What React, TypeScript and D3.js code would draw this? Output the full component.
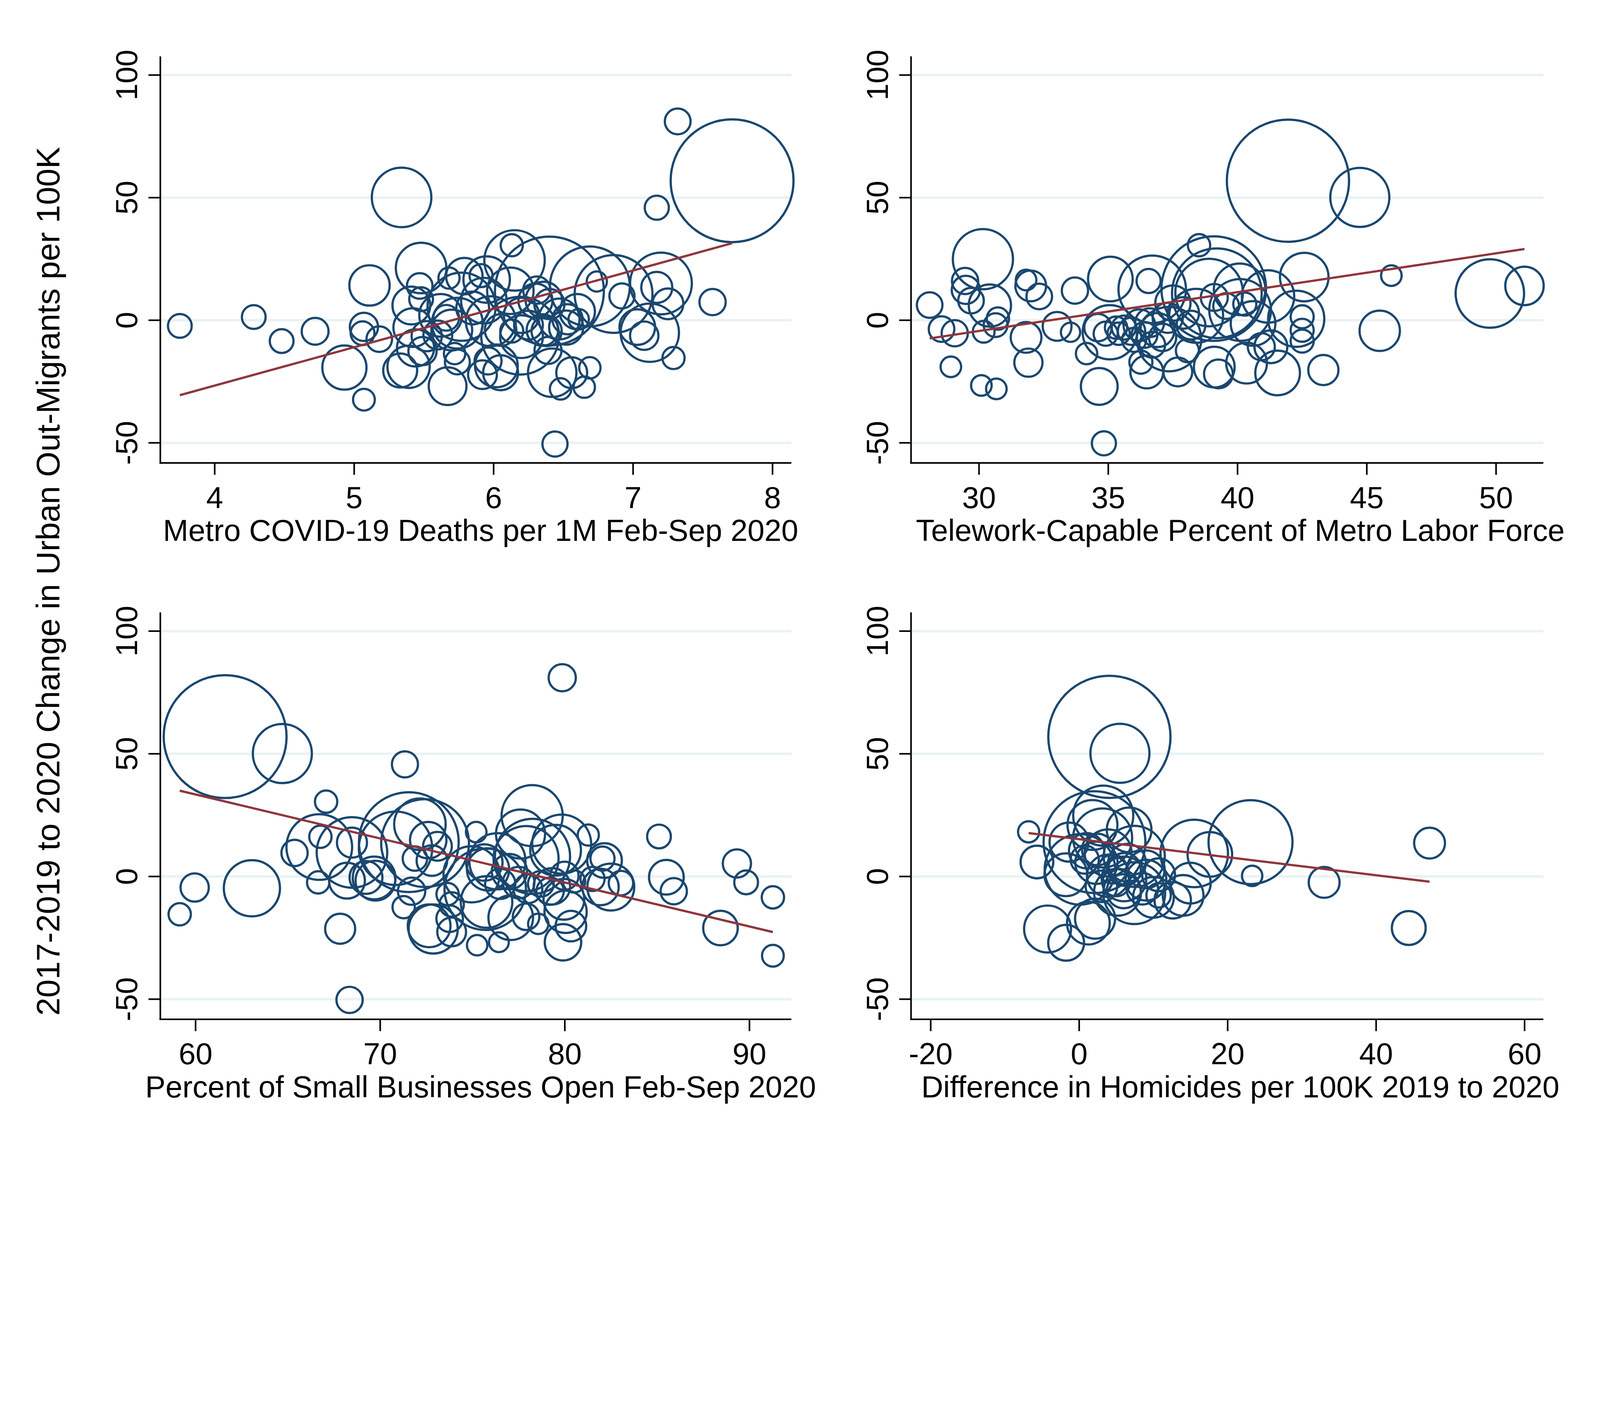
import React from 'react';
import * as d3 from 'd3';

// [x, change in out-migrants per 100K, metro population weight]
type Pt = [number, number, number];

const yTitle = '2017-2019 to 2020 Change in Urban Out-Migrants per 100K';
const yTicks = [-50, 0, 50, 100];

const xTitles = [
  'Metro COVID-19 Deaths per 1M Feb-Sep 2020',
  'Telework-Capable Percent of Metro Labor Force',
  'Percent of Small Businesses Open Feb-Sep 2020',
  'Difference in Homicides per 100K 2019 to 2020',
];

const xTickSets = [
  [4, 5, 6, 7, 8],
  [30, 35, 40, 45, 50],
  [60, 70, 80, 90],
  [-20, 0, 20, 40, 60],
];

// linear fit lines (intercept, slope) per panel
const fitIntercepts = [-89.25, -51.9, 141.0, 15.19];
const fitSlopes = [15.65, 1.584, -1.793, -0.367];

const deathsPoints: Pt[] = [
  [3.75, -2.3, 0.68], [4.28, 1.3, 0.68], [4.48, -8.5, 0.68], [4.72, -4.5, 0.87],
  [4.93, -19.3, 2.35], [5.07, -32.4, 0.57], [5.11, 14.2, 1.96], [5.07, -2.7, 0.96],
  [5.06, -5.3, 0.68], [5.18, -7.7, 0.79], [5.34, 50.1, 4.27], [5.48, 21.3, 3.08],
  [5.33, -20.5, 1.39], [5.39, -19.0, 2.15], [5.67, -26.9, 1.72], [5.47, 14.0, 0.79],
  [5.48, 8.6, 0.68], [5.41, 6.0, 1.72], [5.42, -3.0, 1.8], [5.44, -11.3, 1.66],
  [5.49, -12.6, 0.96], [5.52, -6.5, 1.1], [5.68, 17.2, 0.54], [5.79, 18.0, 1.6],
  [5.77, 5.5, 5.6], [5.62, 2.0, 2.2], [5.74, -1.2, 3.1], [5.70, -4.0, 2.0],
  [5.60, -6.0, 1.0], [5.66, 1.0, 0.8], [5.72, -13.6, 0.55], [5.74, -17.0, 0.75],
  [5.85, 5.0, 1.3], [5.91, 18.2, 0.64], [5.95, 16.6, 2.6], [5.96, -16.6, 0.88],
  [5.92, -22.2, 1.0], [6.05, -21.4, 1.47], [6.02, -18.6, 2.2], [5.93, 8.0, 2.5],
  [5.98, -0.4, 3.0], [6.05, -4.0, 1.2], [6.13, -4.4, 0.64], [6.15, 24.4, 4.4],
  [6.13, 30.6, 0.59], [6.12, 12.0, 2.6], [6.19, -6.3, 7.3], [6.20, -6.7, 2.2],
  [6.20, 2.0, 1.5], [6.25, -2.0, 1.0], [6.30, 8.0, 1.4], [6.31, 12.3, 0.9],
  [6.36, 8.3, 1.6], [6.40, 6.6, 1.1], [6.40, 11.9, 14.3], [6.38, -4.4, 1.1],
  [6.39, -12.3, 0.88], [6.35, -4.0, 1.2], [6.42, -21.4, 2.83], [6.44, -50.5, 0.76],
  [6.48, -28.0, 0.55], [6.56, -21.4, 1.15], [6.65, -27.3, 0.55], [6.69, -19.4, 0.55],
  [6.47, 0.5, 2.0], [6.52, -3.0, 1.4], [6.53, 0.4, 1.1], [6.61, 0.4, 0.5],
  [6.60, 3.5, 1.5], [6.69, 13.8, 7.7], [6.74, 15.8, 0.49], [6.86, 10.7, 7.3],
  [6.92, 9.9, 0.76], [7.03, -2.8, 1.53], [7.08, -6.3, 0.97], [7.12, -5.1, 4.1],
  [7.17, 13.4, 1.16], [7.20, 15.0, 4.6], [7.25, 6.7, 1.14], [7.29, -15.4, 0.59],
  [7.57, 7.4, 0.83], [7.17, 45.9, 0.7], [7.32, 81.1, 0.8], [7.71, 56.9, 18.2],
];

const teleworkPoints: Pt[] = [
  [28.09, 6.2, 0.79], [28.55, -3.6, 0.79], [29.06, -5.3, 0.83], [28.91, -19.0, 0.51],
  [30.15, 24.9, 4.36], [29.46, 16.0, 0.83], [29.49, 12.4, 0.96], [29.69, 8.0, 0.79],
  [30.42, 6.0, 2.15], [30.18, -4.7, 0.57], [30.64, -2.0, 0.68], [30.73, 0.7, 0.6],
  [30.09, -26.6, 0.51], [30.67, -28.0, 0.51], [31.82, 16.4, 0.51], [32.0, 14.0, 1.14],
  [32.33, 9.7, 0.79], [31.82, -7.0, 1.14], [31.91, -17.3, 0.96], [33.02, -2.5, 1.0],
  [33.71, 12.1, 0.83], [33.54, -4.9, 0.45], [34.16, -13.6, 0.55], [34.65, -27.0, 1.63],
  [34.83, -50.2, 0.7], [35.08, 16.8, 2.4], [35.06, -4.9, 3.55], [34.6, -3.0, 0.9],
  [34.9, -5.5, 0.7], [35.3, -3.0, 0.6], [35.6, -3.0, 0.7], [35.9, -4.5, 0.9],
  [36.2, -2.0, 1.2], [36.4, -6.0, 0.8], [36.6, -1.0, 1.0], [36.9, -4.0, 1.4],
  [37.1, -7.0, 0.9], [35.4, -5.5, 0.6], [36.0, -8.0, 0.7], [36.7, -10.0, 0.8],
  [36.7, 12.6, 5.5], [36.56, 16.0, 0.7], [37.35, -7.7, 5.0], [38.06, -12.4, 0.64],
  [36.26, -17.1, 0.64], [36.49, -21.1, 1.3], [37.69, -21.1, 1.0], [38.51, 30.6, 0.6],
  [37.5, 7.0, 1.5], [37.9, 3.0, 1.2], [38.2, -2.0, 1.0], [37.3, 1.0, 1.1],
  [39.08, 12.9, 13.2], [39.2, 11.0, 9.7], [38.9, 11.3, 5.5], [38.4, 1.8, 3.5],
  [39.1, 9.3, 0.88], [39.56, 5.8, 0.8], [40.28, 6.6, 0.64], [40.1, 4.2, 4.6],
  [40.6, -1.3, 2.4], [41.18, 9.7, 3.3], [40.08, 12.6, 3.2], [39.26, -21.9, 1.0],
  [39.1, -19.1, 2.0], [40.35, -17.5, 2.0], [40.92, -10.8, 0.88], [41.29, -10.8, 1.3],
  [41.55, -21.5, 2.4], [42.58, 17.6, 2.84], [42.27, 0.6, 3.8], [42.5, 1.4, 0.64],
  [42.5, -4.1, 0.64], [42.5, -8.5, 0.64], [43.32, -20.3, 1.1], [41.95, 56.9, 18.0],
  [44.73, 50.1, 4.2], [45.95, 18.2, 0.51], [45.5, -4.3, 1.96], [49.76, 10.9, 5.65],
  [51.1, 14.0, 1.78],
];

const businessPoints: Pt[] = [
  [61.6, 57.0, 18.2], [64.7, 50.1, 4.2], [79.86, 81.0, 0.89], [71.34, 45.7, 0.82],
  [68.34, -50.3, 0.83], [59.14, -15.4, 0.6], [59.95, -4.5, 0.96], [63.05, -4.8, 3.8],
  [67.07, 30.5, 0.6], [67.83, -21.3, 1.09], [65.36, 9.6, 0.83], [66.64, -2.4, 0.6],
  [66.76, 16.2, 0.6], [66.7, 12.0, 5.2], [68.47, 9.8, 6.0], [68.47, 13.8, 1.09],
  [68.2, -1.7, 1.55], [69.23, -0.4, 1.3], [69.74, -1.7, 1.9], [69.67, -0.6, 2.2],
  [70.83, 11.5, 6.5], [71.55, 14.0, 12.0], [72.43, 13.6, 9.3], [72.15, 21.3, 3.2],
  [72.6, 14.8, 1.6], [73.1, 12.3, 1.0], [72.8, 6.5, 1.13], [71.88, 7.3, 0.72],
  [71.27, -12.5, 0.6], [71.7, -6.0, 0.9], [73.65, -7.2, 0.6], [73.87, -11.4, 0.72],
  [73.76, -17.2, 0.85], [73.87, -22.6, 1.0], [72.87, -21.4, 2.9], [72.65, -20.1, 2.2],
  [75.2, 18.1, 0.51], [74.95, 0.9, 3.8], [75.69, -5.2, 8.0], [76.35, 6.2, 3.8],
  [75.64, 5.7, 1.6], [75.84, 2.9, 2.15], [75.76, -10.4, 3.2], [77.07, -16.8, 2.4],
  [76.43, -26.8, 0.47], [75.25, -28.0, 0.5], [78.23, 24.8, 4.5], [77.6, 17.3, 2.9],
  [78.25, 8.2, 6.8], [77.9, 7.3, 5.1], [79.5, 10.7, 3.1], [79.83, 13.2, 4.2],
  [77.0, 2.0, 1.5], [77.5, -2.5, 1.2], [78.0, -5.0, 1.0], [78.7, -3.0, 0.8],
  [79.2, -6.0, 0.9], [76.5, -3.0, 1.1], [79.98, 0.3, 0.96], [79.95, -9.3, 2.0],
  [80.04, -14.4, 2.15], [79.3, -4.0, 1.6], [78.56, -19.3, 0.5], [77.9, -16.4, 0.85],
  [80.33, -20.2, 1.13], [79.9, -26.8, 1.6], [81.27, 16.9, 0.54], [82.15, 6.5, 1.45],
  [82.04, 7.3, 0.7], [81.93, -4.3, 1.6], [82.49, -4.3, 2.65], [83.04, -2.7, 0.72],
  [81.5, -1.0, 0.7], [80.5, -2.0, 0.6], [85.1, 16.3, 0.68], [85.5, -0.3, 1.45],
  [85.9, -6.0, 0.83], [88.43, -21.0, 1.44], [89.32, 5.3, 0.96], [89.82, -2.4, 0.68],
  [91.27, -8.5, 0.6], [91.27, -32.3, 0.57],
];

const homicidePoints: Pt[] = [
  [4.07, 56.9, 18.0], [5.49, 50.2, 4.2], [-6.81, 18.2, 0.54], [-5.69, 5.9, 1.29],
  [-4.26, -21.4, 2.65], [-1.76, -27.0, 1.55], [1.24, -19.0, 2.2], [2.14, -17.2, 1.93],
  [2.06, 14.0, 12.5], [3.24, 24.8, 4.35], [1.79, 21.0, 3.0], [-1.37, 14.0, 1.83],
  [3.16, 15.7, 4.2], [2.5, 11.0, 1.2], [1.0, 10.5, 1.5], [6.73, 19.0, 2.4],
  [7.42, 8.2, 4.5], [15.5, 9.4, 5.5], [17.6, 9.0, 2.4], [23.08, 14.0, 8.5],
  [23.3, 0.25, 0.5], [33.0, -2.4, 1.15], [44.4, -21.0, 1.38], [47.2, 13.6, 1.15],
  [14.97, -2.7, 2.0], [14.0, -7.7, 2.0], [12.6, -9.7, 1.6], [10.0, -8.5, 2.0],
  [7.42, -6.8, 4.6], [-1.79, 0.7, 2.2], [6.04, -1.0, 2.4], [10.7, 0.7, 1.3],
  [10.7, -7.7, 0.72], [0.1, 2.9, 6.0], [3.9, 0.3, 2.15], [5.17, -6.4, 2.65],
  [6.1, 2.9, 1.3], [8.97, 2.9, 1.72], [0.75, 6.9, 0.96], [2.33, 5.6, 2.15],
  [3.9, 9.6, 2.65], [6.44, 5.6, 1.72], [5.0, -2.5, 0.9], [3.0, -4.0, 1.2],
  [8.5, -5.0, 1.2], [9.0, -1.5, 2.0], [4.5, 3.0, 1.0], [6.0, -6.0, 1.4],
];

const panelPoints = [deathsPoints, teleworkPoints, businessPoints, homicidePoints];
const xDomains = [
  [3.61, 8.135],
  [27.37, 51.83],
  [58.09, 92.27],
  [-22.65, 62.53],
];

const width = 5000;
const height = 3636;
const font = '"Liberation Sans", Arial, Helvetica, sans-serif';
const navy = '#1a476f';
const maroon = '#90353b';
const gridColor = '#eaf2f3';
const yDomain = [-58.2, 107.65];

const colLeft = [501, 2847];
const colRight = [2473, 4823];
const colCenter = [1502, 3876];
const rowTop = [176, 1914];
const rowBottom = [1447, 3186];

const rScale = d3.scaleSqrt().domain([0, 1]).range([0, 45]);

type PanelProps = { idx: number };

const Panel: React.FC<PanelProps> = ({ idx }) => {
  const col = idx % 2;
  const row = Math.floor(idx / 2);
  const left = colLeft[col];
  const right = colRight[col];
  const top = rowTop[row];
  const bottom = rowBottom[row];
  const pts = panelPoints[idx];

  const xScale = d3.scaleLinear().domain(xDomains[idx]).range([left, right]);
  const yScale = d3.scaleLinear().domain(yDomain).range([bottom, top]);

  const [xMin, xMax] = d3.extent(pts, d => d[0]) as [number, number];
  const fitLine = d3.line<number>()
    .x(v => xScale(v))
    .y(v => yScale(fitIntercepts[idx] + fitSlopes[idx] * v));

  return (
    <g>
      {yTicks.map(v => (
        <line key={'g' + v} x1={left} x2={right} y1={yScale(v)} y2={yScale(v)} stroke={gridColor} strokeWidth={8} />
      ))}
      {pts.map((d, i) => (
        <circle key={i} cx={xScale(d[0])} cy={yScale(d[1])} r={rScale(d[2])} fill="none" stroke={navy} strokeWidth={7} />
      ))}
      <path d={fitLine([xMin, xMax]) || ''} fill="none" stroke={maroon} strokeWidth={7} />
      <line x1={left} x2={left} y1={top} y2={bottom + 2.5} stroke="black" strokeWidth={5} />
      <line x1={left - 2.5} x2={right} y1={bottom} y2={bottom} stroke="black" strokeWidth={5} />
      {yTicks.map(v => (
        <g key={'y' + v}>
          <line x1={left - 37} x2={left} y1={yScale(v)} y2={yScale(v)} stroke="black" strokeWidth={5} />
          <text transform={`translate(${left - 72},${yScale(v)}) rotate(-90)`} textAnchor="middle" fontSize={95} fontFamily={font} fill="black">{v}</text>
        </g>
      ))}
      {xTickSets[idx].map(v => (
        <g key={'x' + v}>
          <line x1={xScale(v)} x2={xScale(v)} y1={bottom} y2={bottom + 37} stroke="black" strokeWidth={5} />
          <text x={xScale(v)} y={bottom + 141} textAnchor="middle" fontSize={95} fontFamily={font} fill="black">{v}</text>
        </g>
      ))}
      <text x={colCenter[col]} y={bottom + 244} textAnchor="middle" fontSize={95} fontFamily={font} fill="black">{xTitles[idx]}</text>
    </g>
  );
};

const App: React.FC = () => {
  return (
    <svg
      viewBox={`0 0 ${width} ${height}`}
      preserveAspectRatio="xMinYMin meet"
      style={{ position: 'absolute', left: 0, top: 0, width: '100vw', height: '100vh', display: 'block', background: 'white' }}
    >
      <rect width={width} height={height} fill="white" />
      {[0, 1, 2, 3].map(i => <Panel key={i} idx={i} />)}
      <text transform={`translate(186,1817) rotate(-90)`} textAnchor="middle" fontSize={102} fontFamily={font} fill="black">{yTitle}</text>
    </svg>
  );
};

export default App;
